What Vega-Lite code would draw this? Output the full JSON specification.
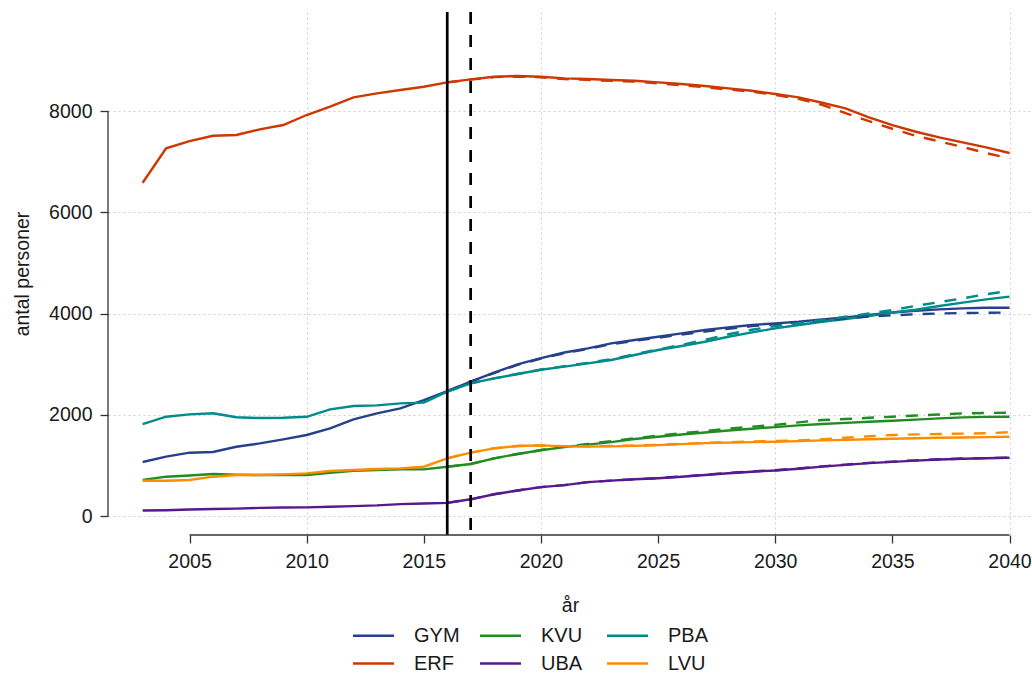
{
  "$schema": "https://vega.github.io/schema/vega-lite/v6.json",
  "width": 924,
  "height": 523,
  "autosize": {"type": "none"},
  "padding": {"left": 108, "top": 12, "right": 0, "bottom": 138},
  "background": "white",
  "config": {
    "font": "Liberation Sans",
    "view": {"stroke": null},
    "axis": {"labelFont": "Liberation Sans", "titleFont": "Liberation Sans", "labelColor": "#1a1a1a", "titleColor": "#1a1a1a", "titleFontWeight": "normal"}
  },
  "datasets": {
    "solid": [
      {"year": 2003, "GYM": 1067, "KVU": 711, "PBA": 1817, "ERF": 6584, "UBA": 110, "LVU": 698},
      {"year": 2004, "GYM": 1172, "KVU": 777, "PBA": 1962, "ERF": 7263, "UBA": 115, "LVU": 698},
      {"year": 2005, "GYM": 1251, "KVU": 800, "PBA": 2008, "ERF": 7407, "UBA": 130, "LVU": 711},
      {"year": 2006, "GYM": 1264, "KVU": 830, "PBA": 2030, "ERF": 7512, "UBA": 138, "LVU": 777},
      {"year": 2007, "GYM": 1369, "KVU": 815, "PBA": 1950, "ERF": 7526, "UBA": 145, "LVU": 810},
      {"year": 2008, "GYM": 1435, "KVU": 810, "PBA": 1935, "ERF": 7638, "UBA": 160, "LVU": 810},
      {"year": 2009, "GYM": 1514, "KVU": 810, "PBA": 1940, "ERF": 7723, "UBA": 168, "LVU": 823},
      {"year": 2010, "GYM": 1600, "KVU": 810, "PBA": 1960, "ERF": 7921, "UBA": 170, "LVU": 843},
      {"year": 2011, "GYM": 1732, "KVU": 856, "PBA": 2107, "ERF": 8085, "UBA": 183, "LVU": 889},
      {"year": 2012, "GYM": 1909, "KVU": 895, "PBA": 2173, "ERF": 8270, "UBA": 196, "LVU": 909},
      {"year": 2013, "GYM": 2028, "KVU": 909, "PBA": 2186, "ERF": 8349, "UBA": 210, "LVU": 928},
      {"year": 2014, "GYM": 2127, "KVU": 922, "PBA": 2225, "ERF": 8415, "UBA": 235, "LVU": 942},
      {"year": 2015, "GYM": 2291, "KVU": 922, "PBA": 2239, "ERF": 8480, "UBA": 248, "LVU": 974},
      {"year": 2016, "GYM": 2469, "KVU": 974, "PBA": 2456, "ERF": 8566, "UBA": 260, "LVU": 1139},
      {"year": 2017, "GYM": 2653, "KVU": 1027, "PBA": 2620, "ERF": 8625, "UBA": 330, "LVU": 1251},
      {"year": 2018, "GYM": 2831, "KVU": 1139, "PBA": 2719, "ERF": 8678, "UBA": 430, "LVU": 1337},
      {"year": 2019, "GYM": 2996, "KVU": 1225, "PBA": 2805, "ERF": 8691, "UBA": 505, "LVU": 1383},
      {"year": 2020, "GYM": 3120, "KVU": 1300, "PBA": 2890, "ERF": 8678, "UBA": 570, "LVU": 1396},
      {"year": 2021, "GYM": 3230, "KVU": 1360, "PBA": 2950, "ERF": 8645, "UBA": 610, "LVU": 1375},
      {"year": 2022, "GYM": 3312, "KVU": 1410, "PBA": 3016, "ERF": 8632, "UBA": 670, "LVU": 1370},
      {"year": 2023, "GYM": 3411, "KVU": 1460, "PBA": 3081, "ERF": 8612, "UBA": 700, "LVU": 1375},
      {"year": 2024, "GYM": 3477, "KVU": 1520, "PBA": 3180, "ERF": 8599, "UBA": 725, "LVU": 1385},
      {"year": 2025, "GYM": 3542, "KVU": 1567, "PBA": 3279, "ERF": 8566, "UBA": 745, "LVU": 1400},
      {"year": 2026, "GYM": 3608, "KVU": 1610, "PBA": 3358, "ERF": 8533, "UBA": 775, "LVU": 1420},
      {"year": 2027, "GYM": 3674, "KVU": 1650, "PBA": 3443, "ERF": 8494, "UBA": 810, "LVU": 1440},
      {"year": 2028, "GYM": 3727, "KVU": 1690, "PBA": 3542, "ERF": 8448, "UBA": 845, "LVU": 1450},
      {"year": 2029, "GYM": 3773, "KVU": 1725, "PBA": 3628, "ERF": 8401, "UBA": 875, "LVU": 1460},
      {"year": 2030, "GYM": 3806, "KVU": 1755, "PBA": 3707, "ERF": 8336, "UBA": 900, "LVU": 1468},
      {"year": 2031, "GYM": 3838, "KVU": 1790, "PBA": 3773, "ERF": 8270, "UBA": 935, "LVU": 1480},
      {"year": 2032, "GYM": 3885, "KVU": 1817, "PBA": 3838, "ERF": 8164, "UBA": 975, "LVU": 1495},
      {"year": 2033, "GYM": 3924, "KVU": 1840, "PBA": 3891, "ERF": 8053, "UBA": 1010, "LVU": 1505},
      {"year": 2034, "GYM": 3970, "KVU": 1862, "PBA": 3950, "ERF": 7875, "UBA": 1045, "LVU": 1515},
      {"year": 2035, "GYM": 4020, "KVU": 1883, "PBA": 4020, "ERF": 7723, "UBA": 1070, "LVU": 1525},
      {"year": 2036, "GYM": 4056, "KVU": 1905, "PBA": 4075, "ERF": 7591, "UBA": 1095, "LVU": 1535},
      {"year": 2037, "GYM": 4082, "KVU": 1928, "PBA": 4148, "ERF": 7480, "UBA": 1115, "LVU": 1545},
      {"year": 2038, "GYM": 4102, "KVU": 1949, "PBA": 4214, "ERF": 7381, "UBA": 1130, "LVU": 1550},
      {"year": 2039, "GYM": 4115, "KVU": 1958, "PBA": 4280, "ERF": 7282, "UBA": 1140, "LVU": 1558},
      {"year": 2040, "GYM": 4115, "KVU": 1962, "PBA": 4333, "ERF": 7170, "UBA": 1150, "LVU": 1567}
    ],
    "dashed": [
      {"year": 2016, "GYM": 2469, "KVU": 974, "PBA": 2456, "ERF": 8566, "UBA": 260, "LVU": 1139},
      {"year": 2017, "GYM": 2653, "KVU": 1027, "PBA": 2620, "ERF": 8620, "UBA": 330, "LVU": 1251},
      {"year": 2018, "GYM": 2825, "KVU": 1139, "PBA": 2719, "ERF": 8670, "UBA": 430, "LVU": 1337},
      {"year": 2019, "GYM": 2985, "KVU": 1225, "PBA": 2805, "ERF": 8680, "UBA": 505, "LVU": 1383},
      {"year": 2020, "GYM": 3110, "KVU": 1305, "PBA": 2895, "ERF": 8665, "UBA": 570, "LVU": 1396},
      {"year": 2021, "GYM": 3215, "KVU": 1370, "PBA": 2960, "ERF": 8630, "UBA": 610, "LVU": 1380},
      {"year": 2022, "GYM": 3300, "KVU": 1425, "PBA": 3025, "ERF": 8615, "UBA": 670, "LVU": 1378},
      {"year": 2023, "GYM": 3395, "KVU": 1480, "PBA": 3100, "ERF": 8595, "UBA": 700, "LVU": 1382},
      {"year": 2024, "GYM": 3460, "KVU": 1535, "PBA": 3195, "ERF": 8580, "UBA": 725, "LVU": 1392},
      {"year": 2025, "GYM": 3520, "KVU": 1590, "PBA": 3290, "ERF": 8545, "UBA": 750, "LVU": 1405},
      {"year": 2026, "GYM": 3585, "KVU": 1635, "PBA": 3380, "ERF": 8510, "UBA": 780, "LVU": 1425},
      {"year": 2027, "GYM": 3645, "KVU": 1680, "PBA": 3480, "ERF": 8470, "UBA": 815, "LVU": 1445},
      {"year": 2028, "GYM": 3700, "KVU": 1725, "PBA": 3590, "ERF": 8425, "UBA": 850, "LVU": 1458},
      {"year": 2029, "GYM": 3750, "KVU": 1765, "PBA": 3680, "ERF": 8380, "UBA": 880, "LVU": 1470},
      {"year": 2030, "GYM": 3790, "KVU": 1800, "PBA": 3750, "ERF": 8320, "UBA": 905, "LVU": 1482},
      {"year": 2031, "GYM": 3825, "KVU": 1850, "PBA": 3810, "ERF": 8240, "UBA": 940, "LVU": 1495},
      {"year": 2032, "GYM": 3860, "KVU": 1896, "PBA": 3870, "ERF": 8120, "UBA": 980, "LVU": 1515},
      {"year": 2033, "GYM": 3900, "KVU": 1915, "PBA": 3935, "ERF": 7960, "UBA": 1015, "LVU": 1545},
      {"year": 2034, "GYM": 3940, "KVU": 1940, "PBA": 4000, "ERF": 7800, "UBA": 1050, "LVU": 1575},
      {"year": 2035, "GYM": 3965, "KVU": 1962, "PBA": 4070, "ERF": 7650, "UBA": 1075, "LVU": 1600},
      {"year": 2036, "GYM": 3985, "KVU": 1985, "PBA": 4150, "ERF": 7510, "UBA": 1100, "LVU": 1612},
      {"year": 2037, "GYM": 4000, "KVU": 2005, "PBA": 4225, "ERF": 7400, "UBA": 1120, "LVU": 1620},
      {"year": 2038, "GYM": 4010, "KVU": 2028, "PBA": 4300, "ERF": 7290, "UBA": 1135, "LVU": 1628},
      {"year": 2039, "GYM": 4015, "KVU": 2035, "PBA": 4380, "ERF": 7170, "UBA": 1145, "LVU": 1635},
      {"year": 2040, "GYM": 4020, "KVU": 2041, "PBA": 4450, "ERF": 7065, "UBA": 1155, "LVU": 1655}
    ]
  },
  "layer": [
    {
      "data": {"name": "solid"},
      "transform": [{"fold": ["GYM", "KVU", "PBA", "ERF", "UBA", "LVU"], "as": ["group", "value"]}],
      "mark": {"type": "line", "strokeWidth": 2.4},
      "encoding": {
        "x": {
          "field": "year", "type": "quantitative",
          "scale": {"domain": [2001.52, 2040.96], "nice": false, "zero": false},
          "axis": {
            "title": "år", "values": [2005, 2010, 2015, 2020, 2025, 2030, 2035, 2040], "format": "d",
            "domain": false, "tickSize": 8, "tickColor": "#333", "tickWidth": 1.3,
            "labelFontSize": 19.5, "labelPadding": 9, "titleFontSize": 19.5, "titlePadding": 26,
            "grid": true, "gridColor": "#cfcfcf", "gridDash": [2, 3], "gridWidth": 1,
            "gridOpacity": {"condition": {"test": "datum.value % 10 === 0", "value": 1}, "value": 0}
          }
        },
        "y": {
          "field": "value", "type": "quantitative",
          "scale": {"domain": [-375, 9956], "nice": false, "zero": false},
          "axis": {
            "title": "antal personer", "values": [0, 2000, 4000, 6000, 8000], "format": "d",
            "domain": false, "tickSize": 8, "tickColor": "#333", "tickWidth": 1.3,
            "labelFontSize": 19.5, "labelPadding": 8, "titleFontSize": 19.5, "titlePadding": 16,
            "grid": true, "gridColor": "#cfcfcf", "gridDash": [2, 3], "gridWidth": 1
          }
        },
        "color": {
          "field": "group", "type": "nominal",
          "scale": {"domain": ["GYM", "KVU", "PBA", "ERF", "UBA", "LVU"], "range": ["#27408B", "#228B22", "#008B8B", "#CD3700", "#551A8B", "#FF8C00"]},
          "legend": {
            "title": null, "orient": "none", "legendX": 254, "legendY": 612, "columns": 3, "direction": "horizontal",
            "symbolType": "M-2,0H2", "symbolSize": 420, "symbolStrokeWidth": 2.5, "labelOffset": 29, "labelFontSize": 20,
            "labelColor": "#1a1a1a", "labelFont": "Liberation Sans", "columnPadding": 15, "rowPadding": 6, "gridAlign": "all", "padding": 0
          }
        },
        "detail": {"field": "group"}
      }
    },
    {
      "data": {"name": "dashed"},
      "transform": [{"fold": ["GYM", "KVU", "PBA", "ERF", "UBA", "LVU"], "as": ["group", "value"]}],
      "mark": {"type": "line", "strokeWidth": 2.4, "strokeDash": [12, 10]},
      "encoding": {
        "x": {"field": "year", "type": "quantitative"},
        "y": {"field": "value", "type": "quantitative"},
        "color": {"field": "group", "type": "nominal"}
      }
    },
    {
      "data": {"values": [{}]},
      "mark": {"type": "rule", "color": "black", "strokeWidth": 2.7},
      "encoding": {"x": {"datum": 2016}}
    },
    {
      "data": {"values": [{}]},
      "mark": {"type": "rule", "color": "black", "strokeWidth": 2.7, "strokeDash": [12, 11]},
      "encoding": {"x": {"datum": 2017}}
    },
    {
      "data": {"values": [{}]},
      "mark": {"type": "rule", "color": "#333", "strokeWidth": 1.3},
      "encoding": {"x": {"datum": 2005}, "x2": {"datum": 2040}, "y": {"datum": -375}}
    },
    {
      "data": {"values": [{}]},
      "mark": {"type": "rule", "color": "#333", "strokeWidth": 1.3},
      "encoding": {"x": {"datum": 2001.52}, "y": {"datum": 0}, "y2": {"datum": 8000}}
    }
  ]
}
